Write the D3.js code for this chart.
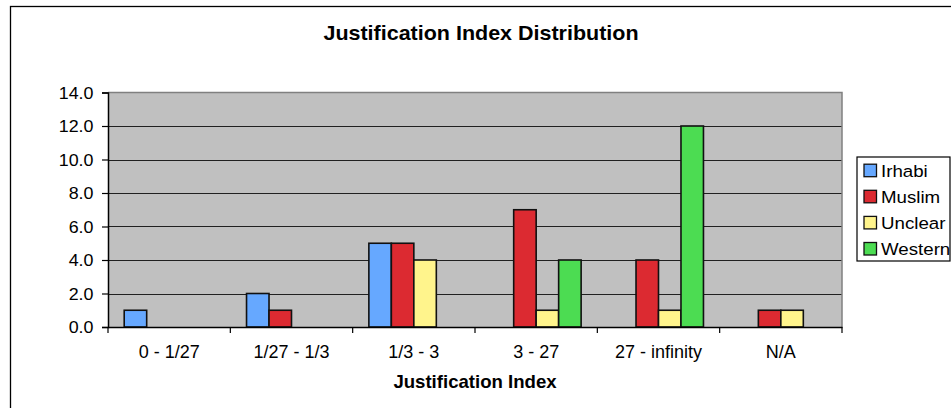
<!DOCTYPE html>
<html><head><meta charset="utf-8">
<script src="https://cdn.jsdelivr.net/npm/d3@7"></script>
<style>
html,body{margin:0;padding:0;background:#fff;}
svg{display:block;}
text{font-family:"Liberation Sans",Arial,sans-serif;fill:#000;}
</style></head>
<body>
<svg id="chart" width="951" height="408"></svg>
<script>
const categories = ["0 - 1/27", "1/27 - 1/3", "1/3 - 3", "3 - 27", "27 - infinity", "N/A"];
const seriesNames = ["Irhabi", "Muslim", "Unclear", "Western"];
const irhabi  = [1, 2, 5, 0, 0, 0];
const muslim  = [0, 1, 5, 7, 4, 1];
const unclear = [0, 0, 4, 1, 1, 1];
const western = [0, 0, 0, 4, 12, 0];
const yTicks = [0, 2, 4, 6, 8, 10, 12, 14];
const colors = ["#66a8ff", "#dc2a31", "#fff48c", "#4cdc52"];
const seriesValues = [irhabi, muslim, unclear, western];

const svg = d3.select("#chart");
const plot = {left: 108, right: 842, top: 92.5, bottom: 327};

// outer chart border
svg.append("rect").attr("x", 10.5).attr("y", 6.5).attr("width", 960).attr("height", 420)
  .attr("fill", "#fff").attr("stroke", "#000").attr("stroke-width", 1.3);

// title
svg.append("text").attr("transform", "translate(481,40) scale(1.075,1)")
  .attr("text-anchor", "middle").style("font-weight", "bold").style("font-size", "20px")
  .text("Justification Index Distribution");

const x = d3.scaleBand().domain(categories).range([plot.left, plot.right]).padding(0);
const inner = d3.scaleBand().domain(seriesNames).range([16.2, x.bandwidth() - 16.2]).padding(0);
const y = d3.scaleLinear().domain([0, 14]).range([plot.bottom, plot.top]);

// plot background
svg.append("rect").attr("x", plot.left).attr("y", plot.top)
  .attr("width", plot.right - plot.left).attr("height", plot.bottom - plot.top)
  .attr("fill", "#c0c0c0");

// gridlines
svg.append("g").selectAll("line").data(yTicks.filter(t => t > 0 && t < 14)).join("line")
  .attr("x1", plot.left).attr("x2", plot.right)
  .attr("y1", d => Math.round(y(d)) + 0.5).attr("y2", d => Math.round(y(d)) + 0.5)
  .attr("stroke", "#202020").attr("stroke-width", 1);

// plot border top/right
svg.append("path")
  .attr("d", `M${plot.left},${plot.top}H${plot.right}V${plot.bottom}`)
  .attr("fill", "none").attr("stroke", "#808080").attr("stroke-width", 1.5);

// bars
const barData = [];
seriesNames.forEach((s, si) => {
  categories.forEach((c, ci) => {
    const v = seriesValues[si][ci];
    if (v > 0) barData.push({s, c, v, color: colors[si]});
  });
});
svg.append("g").selectAll("rect").data(barData).join("rect")
  .attr("x", d => x(d.c) + inner(d.s))
  .attr("y", d => y(d.v))
  .attr("width", inner.bandwidth())
  .attr("height", d => y(0) - y(d.v))
  .attr("fill", d => d.color)
  .attr("stroke", "#111").attr("stroke-width", 1.6);

// y axis
const yAxis = d3.axisLeft(y).tickValues(yTicks).tickFormat(d3.format(".1f")).tickSize(6).tickPadding(9);
const gy = svg.append("g").attr("transform", `translate(${plot.left},0)`).call(yAxis);
gy.select(".domain").attr("stroke", "#000").attr("stroke-width", 1.5);
gy.selectAll(".tick line").attr("stroke", "#000").attr("stroke-width", 1.2);
gy.selectAll("text").style("font-size", "17px").attr("transform", "scale(1.05,1)").attr("dy", "0.35em");
gy.selectAll("text").attr("x", -14.5 / 1.05);

// x axis
const xAxis = d3.axisBottom(x).tickSize(0).tickPadding(20);
const gx = svg.append("g").attr("transform", `translate(0,${plot.bottom})`).call(xAxis);
gx.select(".domain").attr("stroke", "#000").attr("stroke-width", 1.5);
gx.selectAll("text").style("font-size", "18px").attr("dy", "0.71em").attr("y", 18);
// category boundary ticks
const bounds = categories.map(c => x(c)).concat([x(categories[categories.length - 1]) + x.bandwidth()]);
svg.append("g").selectAll("line").data(bounds).join("line")
  .attr("x1", d => d).attr("x2", d => d).attr("y1", plot.bottom).attr("y2", plot.bottom + 6)
  .attr("stroke", "#000").attr("stroke-width", 1.2);

// x axis title
svg.append("text").attr("x", 475).attr("y", 388).attr("text-anchor", "middle")
  .style("font-weight", "bold").style("font-size", "18.6px").text("Justification Index");

// legend
const lg = svg.append("g");
lg.append("rect").attr("x", 857).attr("y", 157).attr("width", 93).attr("height", 104)
  .attr("fill", "#fff").attr("stroke", "#000").attr("stroke-width", 1.2);
const ly = d3.scalePoint().domain(seriesNames).range([170.7, 249]);
const items = lg.selectAll("g").data(seriesNames).join("g")
  .attr("transform", d => `translate(0,${ly(d)})`);
items.append("rect").attr("x", 864).attr("y", -6.5).attr("width", 12.5).attr("height", 12.5)
  .attr("fill", (d, i) => colors[i]).attr("stroke", "#111").attr("stroke-width", 1.3);
items.append("text").attr("transform", "translate(881,0) scale(1.1,1)").attr("dy", "0.35em")
  .style("font-size", "17px").text(d => d);
</script>
</body></html>
